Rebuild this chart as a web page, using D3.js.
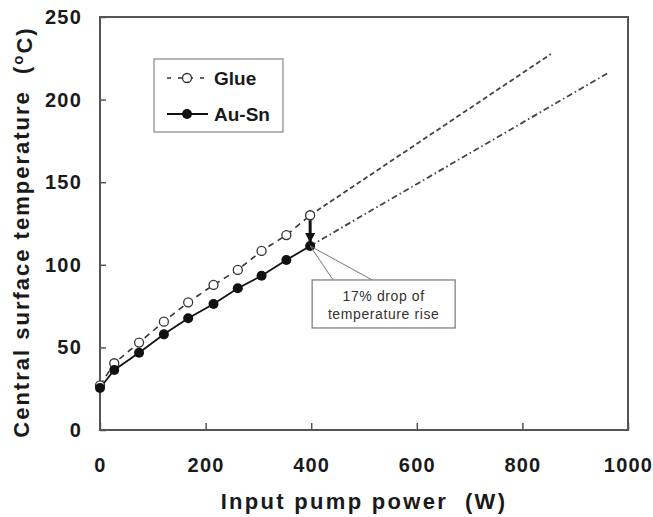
<!DOCTYPE html>
<html>
<head>
<meta charset="utf-8">
<script src="https://cdn.jsdelivr.net/npm/d3@7"></script>
<style>
body { margin: 0; background: #fff; }
text { font-family: "Liberation Sans", Arial, sans-serif; }
</style>
</head>
<body>
<div id="canvas"></div>
<script>
// ----------------------------------------------------------
// DATA -----------------------------------------------------
// ----------------------------------------------------------
var power_glue = [0, 27, 74, 121, 167, 215, 261, 306, 353, 398];
var temp_glue = [27, 40.4, 52.9, 65.6, 77.3, 87.8, 96.9, 108.4, 118, 130];

var power_ausn = [0, 27, 74, 121, 167, 215, 261, 306, 353, 398];
var temp_ausn = [25.4, 36.3, 46.8, 57.9, 67.6, 76.3, 85.8, 93.4, 102.9, 111.4];

// extrapolated fits (start, end)
var fit_power_glue = [398, 854];
var fit_temp_glue = [130, 227.6];
var fit_power_ausn = [398, 963];
var fit_temp_ausn = [111.4, 216.3];

var x_ticks = [0, 200, 400, 600, 800, 1000];
var y_ticks = [0, 50, 100, 150, 200, 250];

var series_names = ["Glue", "Au-Sn"];
var note_lines = ["17% drop of", "temperature rise"];

// ----------------------------------------------------------
// LAYOUT ---------------------------------------------------
// ----------------------------------------------------------
var cfg = {
width: 653, height: 517,
left: 100, right: 628, top: 17, bottom: 430,
color_frame: "#555",
color_line: "#111",
color_text: "#1a1a1a",
color_box: "#777"
};

var svg = d3.select("#canvas").append("svg")
.attr("width", cfg.width)
.attr("height", cfg.height);

svg.append("defs").append("marker")
.attr("id", "arrow")
.attr("viewBox", "0 0 10 10")
.attr("refX", 9).attr("refY", 5)
.attr("markerWidth", 3.5).attr("markerHeight", 3.5)
.attr("orient", "auto")
.append("path")
.attr("d", "M0,0 L10,5 L0,10 Z")
.style("fill", cfg.color_line);

// ----------------------------------------------------------
// SCALES ---------------------------------------------------
// ----------------------------------------------------------
var xScale = d3.scaleLinear().domain([0, 1000]).range([cfg.left, cfg.right]);
var yScale = d3.scaleLinear().domain([0, 250]).range([cfg.bottom, cfg.top]);

// ----------------------------------------------------------
// AXES -----------------------------------------------------
// ----------------------------------------------------------
var xAxis = d3.axisBottom(xScale).tickValues(x_ticks).tickFormat(d3.format("d"))
.tickSize(-7).tickPadding(28);
var yAxis = d3.axisLeft(yScale).tickValues(y_ticks).tickFormat(d3.format("d"))
.tickSize(-6).tickPadding(18);

svg.append("g")
.attr("transform", "translate(0," + cfg.bottom + ")")
.call(xAxis)
.call(styleAxis);

svg.append("g")
.attr("transform", "translate(" + cfg.left + ",0)")
.call(yAxis)
.call(styleAxis);

function styleAxis(g) {
g.select(".domain").remove();
g.selectAll(".tick line").attr("stroke", cfg.color_frame).attr("stroke-width", 1.5);
g.selectAll(".tick text")
.style("font-family", "'Liberation Sans', Arial, sans-serif")
.style("font-size", "20px")
.style("font-weight", "bold")
.style("letter-spacing", "1.2px")
.style("fill", cfg.color_text);
}

// frame
svg.append("rect")
.attr("x", cfg.left).attr("y", cfg.top)
.attr("width", cfg.right - cfg.left)
.attr("height", cfg.bottom - cfg.top)
.style("fill", "none")
.style("stroke", cfg.color_frame)
.style("stroke-width", 2);

// ----------------------------------------------------------
// LINES ----------------------------------------------------
// ----------------------------------------------------------
var line = d3.line()
.x(function(d) { return xScale(d[0]); })
.y(function(d) { return yScale(d[1]); });

var glue = d3.zip(power_glue, temp_glue);
var ausn = d3.zip(power_ausn, temp_ausn);

svg.append("path")
.datum(d3.zip(fit_power_glue, fit_temp_glue))
.attr("d", line)
.style("fill", "none").style("stroke", "#444").style("stroke-width", 1.8)
.style("stroke-dasharray", "5,3");

svg.append("path")
.datum(d3.zip(fit_power_ausn, fit_temp_ausn))
.attr("d", line)
.style("fill", "none").style("stroke", "#444").style("stroke-width", 1.8)
.style("stroke-dasharray", "6,3,1.5,3");

svg.append("path")
.datum(glue)
.attr("d", line)
.style("fill", "none").style("stroke", "#333").style("stroke-width", 1.6)
.style("stroke-dasharray", "6,5");

svg.append("path")
.datum(ausn)
.attr("d", line)
.style("fill", "none").style("stroke", cfg.color_line).style("stroke-width", 1.8);

svg.selectAll(".dot_glue")
.data(glue)
.enter().append("circle")
.attr("class", "dot_glue")
.attr("cx", function(d) { return xScale(d[0]); })
.attr("cy", function(d) { return yScale(d[1]); })
.attr("r", 4.5)
.style("fill", "#fff").style("stroke", "#333").style("stroke-width", 1.3);

svg.selectAll(".dot_ausn")
.data(ausn)
.enter().append("circle")
.attr("class", "dot_ausn")
.attr("cx", function(d) { return xScale(d[0]); })
.attr("cy", function(d) { return yScale(d[1]); })
.attr("r", 5)
.style("fill", cfg.color_line);

// ----------------------------------------------------------
// ANNOTATION -----------------------------------------------
// ----------------------------------------------------------
var top_glue = glue[glue.length - 1];
var top_ausn = ausn[ausn.length - 1];
var ax = xScale(top_ausn[0]);
var ay = yScale(top_ausn[1]);

svg.append("line")
.attr("x1", ax).attr("y1", yScale(top_glue[1]) + 5)
.attr("x2", ax).attr("y2", ay - 4)
.attr("marker-end", "url(#arrow)")
.style("stroke", cfg.color_line).style("stroke-width", 3);

var box = { x: ax + 2, y: ay + 34, w: 143, h: 48 };

svg.append("path")
.attr("d", "M" + (box.x + 21) + "," + box.y + " L" + ax + "," + ay + " L" + (box.x + 60) + "," + box.y)
.style("fill", "none").style("stroke", cfg.color_box).style("stroke-width", 1);

svg.append("rect")
.attr("x", box.x).attr("y", box.y)
.attr("width", box.w).attr("height", box.h)
.style("fill", "#fff").style("stroke", cfg.color_box).style("stroke-width", 1.2);

svg.selectAll(".note")
.data(note_lines)
.enter().append("text")
.attr("class", "note")
.attr("x", box.x + box.w / 2)
.attr("y", function(d, i) { return box.y + 21 + i * 18; })
.attr("text-anchor", "middle")
.style("font-size", "14px")
.style("letter-spacing", "0.6px")
.style("fill", "#333")
.text(function(d) { return d; });

// ----------------------------------------------------------
// LEGEND ---------------------------------------------------
// ----------------------------------------------------------
var legend = svg.append("g").attr("transform", "translate(154,59)");
legend.append("rect")
.attr("width", 129).attr("height", 73)
.style("fill", "#fff").style("stroke", "#888").style("stroke-width", 1.2);

series_names.forEach(function(name, i) {
var yy = 19 + i * 36;
var row = legend.append("g").attr("transform", "translate(0," + yy + ")");
row.append("line")
.attr("x1", 13).attr("x2", 54)
.style("stroke", i == 0 ? "#333" : cfg.color_line)
.style("stroke-width", i == 0 ? 1.5 : 1.8)
.style("stroke-dasharray", i == 0 ? "4,7" : null);
row.append("circle")
.attr("cx", 33).attr("r", i == 0 ? 4.5 : 5)
.style("fill", i == 0 ? "#fff" : cfg.color_line)
.style("stroke", "#333").style("stroke-width", i == 0 ? 1.3 : 0);
row.append("text")
.attr("x", 60).attr("dy", "0.36em")
.style("font-size", "19px").style("font-weight", "bold")
.style("fill", cfg.color_text)
.text(name);
});

// ----------------------------------------------------------
// TITLES ---------------------------------------------------
// ----------------------------------------------------------
svg.append("text")
.attr("x", (cfg.left + cfg.right) / 2)
.attr("y", 509)
.attr("text-anchor", "middle")
.style("font-size", "22px").style("font-weight", "bold")
.style("letter-spacing", "2.3px")
.style("fill", cfg.color_text)
.style("white-space", "pre")
.text("Input pump power  (W)");

var ytitle = svg.append("text")
.attr("transform", "translate(29,232) rotate(-90)")
.attr("text-anchor", "middle")
.style("font-size", "22px").style("font-weight", "bold")
.style("letter-spacing", "2px")
.style("fill", cfg.color_text)
.style("white-space", "pre");
ytitle.append("tspan").text("Central surface temperature  (");
ytitle.append("tspan").attr("dy", "-0.4em").style("font-size", "15px").text("o");
ytitle.append("tspan").attr("dy", "0.4em").text("C)");
</script>
</body>
</html>
